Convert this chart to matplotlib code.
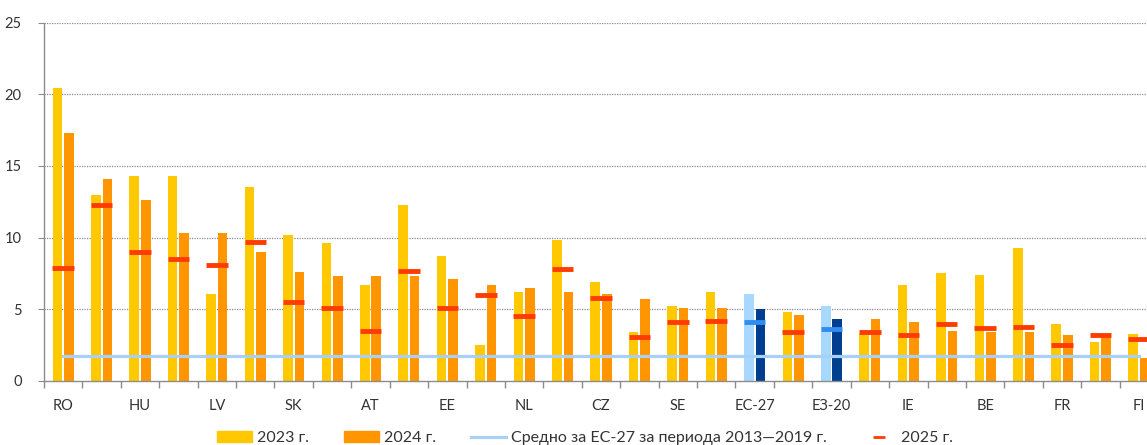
import matplotlib.pyplot as plt
import numpy as np

plt.rcParams['font.family'] = ['Lato', 'DejaVu Sans']

# group labels (only every second one is printed in the original)
labels = ['RO', '', 'HU', '', 'LV', '', 'SK', '', 'AT', '', 'EE', '', 'NL', '',
          'CZ', '', 'SE', '', 'ЕС-27', '', 'ЕЗ-20', '', 'IE', '', 'BE', '',
          'FR', '', 'FI']
aggregates = ['ЕС-27', 'ЕЗ-20']

v2023 = [20.4, 13.0, 14.3, 14.3, 6.1, 13.5, 10.2, 9.6, 6.7, 12.3, 8.7, 2.5,
         6.2, 9.8, 6.9, 3.4, 5.2, 6.2, 6.1, 4.8, 5.2, 3.3, 6.7, 7.5, 7.4,
         9.3, 4.0, 2.7, 3.3]
v2024 = [17.3, 14.1, 12.6, 10.3, 10.3, 9.0, 7.6, 7.3, 7.3, 7.3, 7.1, 6.7,
         6.5, 6.2, 6.1, 5.7, 5.1, 5.1, 5.0, 4.6, 4.3, 4.3, 4.1, 3.5, 3.4,
         3.4, 3.2, 3.2, 1.6]
v2025 = [7.9, 12.3, 9.0, 8.5, 8.1, 9.7, 5.5, 5.1, 3.5, 7.7, 5.1, 6.0,
         4.5, 7.8, 5.8, 3.1, 4.1, 4.2, 4.1, 3.4, 3.6, 3.4, 3.2, 4.0, 3.7,
         3.8, 2.5, 3.2, 2.9]
avg_2013_2019 = 1.75

x = np.arange(len(labels))
is_agg = np.array([l in aggregates for l in labels])

c23 = np.where(is_agg, '#a8d8ff', '#ffc800')
c24 = np.where(is_agg, '#003f8f', '#ff9500')
c25 = np.where(is_agg, '#2f8cf0', '#ff3c00')

fig = plt.figure(figsize=(11.47, 4.45), dpi=100)
ax = fig.add_axes([44 / 1147, 64 / 445, 1114 / 1147, 358.5 / 445])

w = 0.25
ax.bar(x - 0.15, v2023, w, color=c23, zorder=2)
ax.bar(x + 0.15, v2024, w, color=c24, zorder=2)
ax.plot(x, [avg_2013_2019] * len(x), color='#a9d1f7', lw=2.3, zorder=3)
ax.hlines(v2025, x - 0.28, x + 0.28, colors=c25, lw=3.5, zorder=4)

ax.set_xlim(-0.5, len(x) - 0.5)
ax.set_ylim(0, 25)
ax.set_yticks(range(0, 26, 5))
for y in range(5, 26, 5):
    ax.axhline(y, color='#8c8c8c', lw=0.9, ls=(0, (1, 1)), zorder=1)

ax.set_xticks(x)
ax.set_xticklabels(labels)
ax.set_xticks(np.arange(-0.5, len(x), 1), minor=True)
ax.tick_params(axis='x', which='major', length=0, pad=13, labelsize=10.5, colors='#333333')
ax.tick_params(axis='x', which='minor', length=5, color='#8c8c8c', width=1)
ax.tick_params(axis='y', length=4, color='#8c8c8c', labelsize=10.5, colors='#333333', pad=12)

for s in ['top', 'right']:
    ax.spines[s].set_visible(False)
for s in ['left', 'bottom']:
    ax.spines[s].set_color('#8c8c8c')
    ax.spines[s].set_linewidth(1)

handles = [
    plt.Rectangle((0, 0), 1, 1, color='#ffc800'),
    plt.Rectangle((0, 0), 1, 1, color='#ff9500'),
    plt.Line2D([], [], color='#a9d1f7', lw=2.3),
    plt.Line2D([], [], color='#ff3c00', lw=0, marker='_', markersize=8, mew=2),
]
names = ['2023 г.', '2024 г.', 'Средно за ЕС-27 за периода 2013—2019 г.', '2025 г.']
fig.legend(handles, names, loc='center', bbox_to_anchor=(0.51, 0.015), ncol=4,
           frameon=False, fontsize=11.5, handlelength=2.2, handletextpad=0.3,
           columnspacing=2.2, labelcolor='#333333')

fig.savefig('out.png', dpi=100)
